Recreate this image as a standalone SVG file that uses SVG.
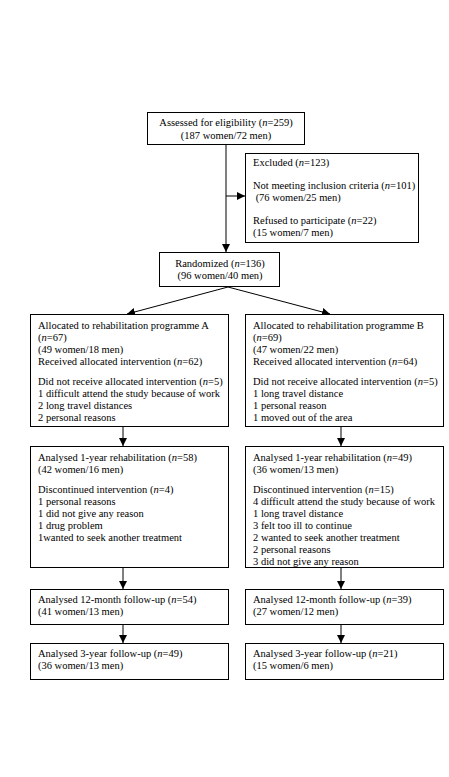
<svg xmlns="http://www.w3.org/2000/svg" width="449" height="777" viewBox="0 0 449 777">
<style>
rect.b{fill:#fff;stroke:#000;stroke-width:1}
text{font-family:"Liberation Serif","Times New Roman",serif;font-size:10.5px;fill:#000}
.c{text-anchor:middle}
.i{font-style:italic}
.ln{stroke:#000;stroke-width:1;fill:none}
</style>
<defs>
<marker id="ah" viewBox="0 0 10 10" refX="10" refY="5" markerWidth="8" markerHeight="8" markerUnits="userSpaceOnUse" orient="auto">
<path d="M0,0 L10,5 L0,10 Z" fill="#000"/>
</marker>
</defs>
<rect width="449" height="777" fill="#fff"/>
<g id="connectors">
<line class="ln" x1="226" y1="145" x2="226" y2="252" marker-end="url(#ah)"/>
<line class="ln" x1="226" y1="196" x2="245" y2="196" marker-end="url(#ah)"/>
<line class="ln" x1="228" y1="287" x2="127" y2="314" marker-end="url(#ah)"/>
<line class="ln" x1="228" y1="287" x2="330" y2="314" marker-end="url(#ah)"/>
<line class="ln" x1="123" y1="427" x2="123" y2="446" marker-end="url(#ah)"/>
<line class="ln" x1="341" y1="427" x2="341" y2="446" marker-end="url(#ah)"/>
<line class="ln" x1="123" y1="568" x2="123" y2="589" marker-end="url(#ah)"/>
<line class="ln" x1="341" y1="568" x2="341" y2="589" marker-end="url(#ah)"/>
<line class="ln" x1="123" y1="624" x2="123" y2="643" marker-end="url(#ah)"/>
<line class="ln" x1="341" y1="624" x2="341" y2="643" marker-end="url(#ah)"/>
</g>
<g id="assessed">
<rect class="b" x="147.5" y="112.5" width="157" height="32"/>
<text class="c" x="226" y="126">Assessed for eligibility (<tspan class="i">n</tspan>=259)</text>
<text class="c" x="226" y="139">(187 women/72 men)</text>
</g>
<g id="excluded">
<rect class="b" x="245.5" y="153.5" width="173" height="89"/>
<text x="253" y="166">Excluded (<tspan class="i">n</tspan>=123)</text>
<text x="253" y="189">Not meeting inclusion criteria (<tspan class="i">n</tspan>=101)</text>
<text x="253" y="201" xml:space="preserve"> (76 women/25 men)</text>
<text x="253" y="224">Refused to participate (<tspan class="i">n</tspan>=22)</text>
<text x="253" y="236">(15 women/7 men)</text>
</g>
<g id="randomized">
<rect class="b" x="159.5" y="252.5" width="120" height="34"/>
<text class="c" x="220" y="267">Randomized (<tspan class="i">n</tspan>=136)</text>
<text class="c" x="220" y="279">(96 women/40 men)</text>
</g>
<g id="allocA">
<rect class="b" x="30.5" y="314.5" width="198" height="112"/>
<text x="38" y="329">Allocated to rehabilitation programme A</text>
<text x="38" y="341">(<tspan class="i">n</tspan>=67)</text>
<text x="38" y="353">(49 women/18 men)</text>
<text x="38" y="365">Received allocated intervention (<tspan class="i">n</tspan>=62)</text>
<text x="38" y="385">Did not receive allocated intervention (<tspan class="i">n</tspan>=5)</text>
<text x="38" y="397">1 difficult attend the study because of work</text>
<text x="38" y="409">2 long travel distances</text>
<text x="38" y="421">2 personal reasons</text>
</g>
<g id="allocB">
<rect class="b" x="245.5" y="314.5" width="198" height="112"/>
<text x="253" y="329">Allocated to rehabilitation programme B</text>
<text x="253" y="341">(<tspan class="i">n</tspan>=69)</text>
<text x="253" y="353">(47 women/22 men)</text>
<text x="253" y="365">Received allocated intervention (<tspan class="i">n</tspan>=64)</text>
<text x="253" y="385">Did not receive allocated intervention (<tspan class="i">n</tspan>=5)</text>
<text x="253" y="397">1 long travel distance</text>
<text x="253" y="409">1 personal reason</text>
<text x="253" y="421">1 moved out of the area</text>
</g>
<g id="yearA">
<rect class="b" x="30.5" y="446.5" width="198" height="121"/>
<text x="38" y="461">Analysed 1-year rehabilitation (<tspan class="i">n</tspan>=58)</text>
<text x="38" y="473">(42 women/16 men)</text>
<text x="38" y="493">Discontinued intervention (<tspan class="i">n</tspan>=4)</text>
<text x="38" y="505">1 personal reasons</text>
<text x="38" y="517">1 did not give any reason</text>
<text x="38" y="529">1 drug problem</text>
<text x="38" y="541">1wanted to seek another treatment</text>
</g>
<g id="yearB">
<rect class="b" x="245.5" y="446.5" width="198" height="121"/>
<text x="253" y="461">Analysed 1-year rehabilitation (<tspan class="i">n</tspan>=49)</text>
<text x="253" y="473">(36 women/13 men)</text>
<text x="253" y="493">Discontinued intervention (<tspan class="i">n</tspan>=15)</text>
<text x="253" y="505">4 difficult attend the study because of work</text>
<text x="253" y="517">1 long travel distance</text>
<text x="253" y="529">3 felt too ill to continue</text>
<text x="253" y="541">2 wanted to seek another treatment</text>
<text x="253" y="553">2 personal reasons</text>
<text x="253" y="565">3 did not give any reason</text>
</g>
<g id="monthA">
<rect class="b" x="30.5" y="589.5" width="198" height="35"/>
<text x="38" y="603">Analysed 12-month follow-up (<tspan class="i">n</tspan>=54)</text>
<text x="38" y="615">(41 women/13 men)</text>
</g>
<g id="monthB">
<rect class="b" x="245.5" y="589.5" width="198" height="35"/>
<text x="253" y="603">Analysed 12-month follow-up (<tspan class="i">n</tspan>=39)</text>
<text x="253" y="615">(27 women/12 men)</text>
</g>
<g id="threeA">
<rect class="b" x="30.5" y="643.5" width="198" height="36"/>
<text x="38" y="657">Analysed 3-year follow-up (<tspan class="i">n</tspan>=49)</text>
<text x="38" y="669">(36 women/13 men)</text>
</g>
<g id="threeB">
<rect class="b" x="245.5" y="643.5" width="198" height="36"/>
<text x="253" y="657">Analysed 3-year follow-up (<tspan class="i">n</tspan>=21)</text>
<text x="253" y="669">(15 women/6 men)</text>
</g>
</svg>
